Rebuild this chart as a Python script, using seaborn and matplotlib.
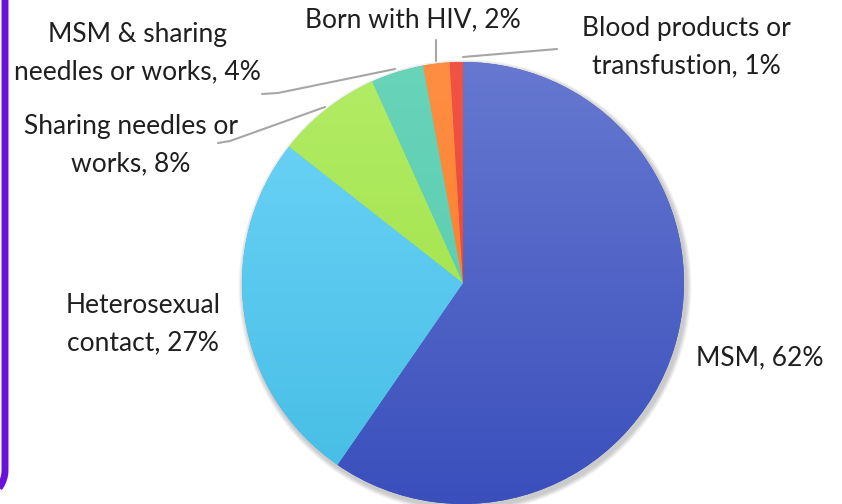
import numpy as np
import matplotlib.pyplot as plt
import seaborn as sns
from matplotlib.colors import LinearSegmentedColormap
from matplotlib.patches import Circle

# dados
categorias = ["MSM", "Heterosexual\ncontact", "Sharing needles or\nworks",
              "MSM & sharing\nneedles or works", "Born with HIV",
              "Blood products or\ntransfustion"]
valores = [62, 27, 8, 4, 2, 1]
rotulos = ["MSM, 62%", "Heterosexual\ncontact, 27%", "Sharing needles or\nworks, 8%",
           "MSM & sharing\nneedles or works, 4%", "Born with HIV, 2%",
           "Blood products or\ntransfustion, 1%"]
cor_topo = ["#6678d0", "#70d4f8", "#b2ec66", "#68d4ba", "#ff8e44", "#f05444"]
cor_base = ["#3a4fbc", "#44bde5", "#9cdf3e", "#54c8a8", "#f7781e", "#f2392a"]

sns.set_theme(style="white")
plt.rcParams["font.family"] = ["Lato", "DejaVu Sans"]

W, H = 842, 504
fig = plt.figure(figsize=(W / 100, H / 100), dpi=100)
ax = fig.add_axes([0, 0, 1, 1])

def py(y):
    return H - y

cx, cy, r = 463, py(283), 221

# sombra
for k in range(6):
    ax.add_patch(Circle((cx + 2, cy - 3), r + 1.5 + k * 0.8, color="black",
                        alpha=0.035, lw=0, zorder=0))

wedges, _ = ax.pie(valores, startangle=90, counterclock=False, center=(cx, cy),
                   radius=r, colors=cor_base, wedgeprops=dict(lw=0),
                   normalize=True, frame=True)

grad = np.linspace(0, 1, 256).reshape(-1, 1)
for w, c1, c2 in zip(wedges, cor_topo, cor_base):
    cmap = LinearSegmentedColormap.from_list("g", [c2, c1])
    im = ax.imshow(grad, extent=(cx - r, cx + r, cy - r, cy + r), origin="lower",
                   cmap=cmap, aspect="auto", zorder=2)
    im.set_clip_path(w)

# rotulos
pos = [(760, 358), (143, 324), (131, 145), (137, 53), (413, 20), (686, 47)]
for txt, (x, y) in zip(rotulos, pos):
    ax.text(x, py(y), txt, ha="center", va="center", fontsize=19,
            color="#1f1f1f", linespacing=1.6)

# linhas de chamada
cinza = "#a6a6a6"
ax.plot([395, 278, 262], [py(69), py(93), py(94)], color=cinza, lw=1.5)
ax.plot([325, 230, 218], [py(107), py(141), py(143)], color=cinza, lw=1.5)
ax.plot([436, 436], [py(40), py(61)], color=cinza, lw=1.5)
ax.plot([463, 557], [py(57), py(49)], color=cinza, lw=1.5)

# borda roxa
t = np.linspace(0, np.pi / 2, 20)
bx = np.concatenate([[5, 5], 5 - 30 * (1 - np.cos(t))])
by = np.concatenate([[py(-5), py(470)], py(470 + 30 * np.sin(t))])
ax.plot(bx, by, color="#6a10d8", lw=5, solid_capstyle="butt")

ax.set_xlim(0, W)
ax.set_ylim(0, H)
ax.set_aspect("equal")
ax.axis("off")

fig.savefig("out.png", dpi=100)
plt.close(fig)
